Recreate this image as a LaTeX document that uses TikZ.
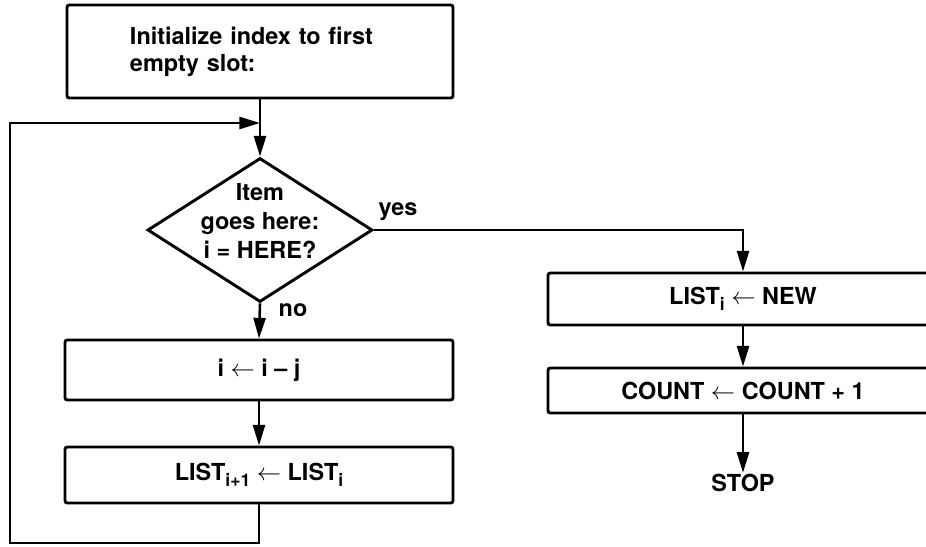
\documentclass[tikz,border=0pt]{standalone}
\usepackage{fontspec}
\setmainfont{TeX Gyre Heros}
\usetikzlibrary{shapes.geometric,arrows.meta}
\newcommand{\lowsub}[1]{\raisebox{-0.45ex}{\fontsize{15}{15}\selectfont#1}}
\tikzset{
  box/.style={draw,line width=2.5pt,rounded corners=2pt,inner sep=0pt,font=\bfseries\fontsize{20}{23}\selectfont},
  flow/.style={line width=2.2pt,-{Triangle[length=0.62cm,width=0.36cm]}},
  tag/.style={font=\bfseries\fontsize{20}{23}\selectfont,inner sep=1pt},
}
\begin{document}
\begin{tikzpicture}[x=0.03cm,y=-0.03cm]
\clip (0,0) rectangle (926,546);
\node[box,minimum width=11.58cm,minimum height=2.79cm,text width=7.8cm,inner xsep=1.89cm,align=left,xshift=0.15cm] (init) at (255,51.5) {Initialize index to first\\empty slot:};
\node[box,diamond,aspect=1.56,rounded corners=0pt,minimum width=6.75cm,minimum height=4.32cm] (test) at (260,230) {};
\node[tag,align=center,font=\bfseries\fontsize{20}{25}\selectfont] (asktext) at (260,221) {Item\\goes here:\\i = HERE?};
\node[box,minimum width=11.64cm,minimum height=1.8cm] (shift) at (259,370) {i $\leftarrow$ i -- j};
\node[box,minimum width=11.64cm,minimum height=1.68cm] (move) at (259,475) {LIST\lowsub{i+1} $\leftarrow$ LIST\lowsub{i}};
\node[box,minimum width=11.7cm,minimum height=1.56cm] (store) at (743,299) {LIST\lowsub{i} $\leftarrow$ NEW};
\node[box,minimum width=11.7cm,minimum height=1.35cm] (count) at (743,390.5) {COUNT $\leftarrow$ COUNT + 1};
\node[tag] (stop) at (743,483) {STOP};
\node[tag] (yes) at (398,212) {yes};
\node[tag] (no) at (293,310) {no};
\coordinate (join) at (260,123);
\coordinate (lowleft) at (10,543);
% main line
\draw[flow] (init.south) -- (test.north);
\draw[flow] (test.south) -- (shift.north);
\draw[flow] (shift) -- (move);
\draw[flow] (move.south) |- (lowleft) |- (join);
% yes branch
\draw[flow] (test.east) -| (store.north);
\draw[flow] (store) -- (count);
\draw[flow] (count) -- (stop);
\end{tikzpicture}
\end{document}
